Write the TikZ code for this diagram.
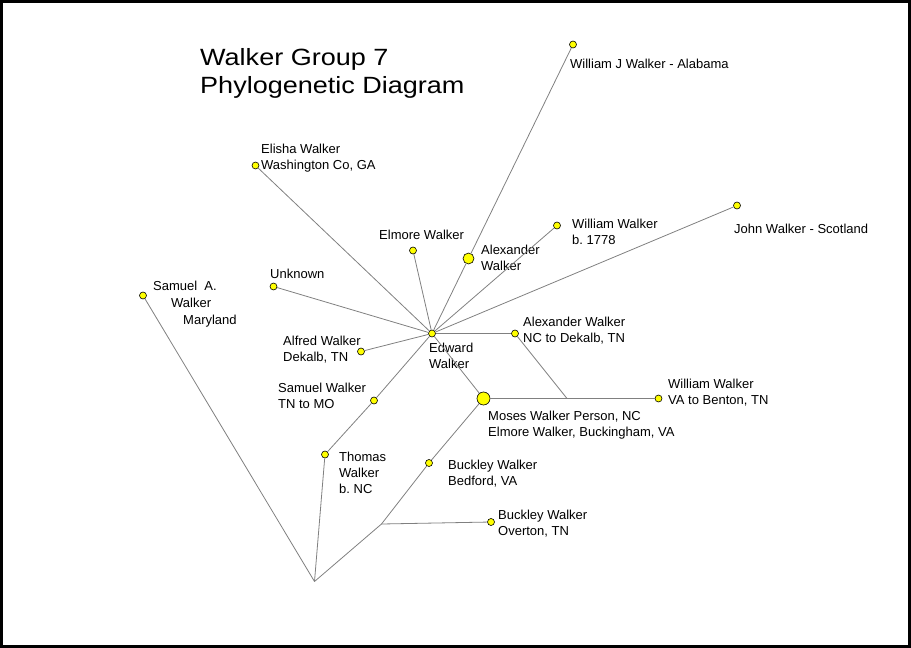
\documentclass[tikz,border=0pt]{standalone}
\usepackage{fontspec}
\setmainfont{Liberation Sans}
\newfontfamily\titlefont[FakeStretch=1.15]{Liberation Sans}
\usepackage{tikz}
\tikzset{>=latex}
\frenchspacing
\definecolor{linegray}{RGB}{128,128,128}
\definecolor{dotyellow}{RGB}{255,255,0}
\tikzset{
  dot/.style={circle,draw=black,line width=0.6pt,fill=dotyellow,minimum size=7pt,inner sep=0pt},
  bigdot/.style={dot,minimum size=11pt},
  lbl/.style={anchor=base west,inner sep=0pt,align=left,font=\fontsize{13}{16}\selectfont},
  edge/.style={draw=linegray,line width=0.8pt},
}

\begin{document}
\begin{tikzpicture}[x=1pt,y=-1pt]
                \useasboundingbox (0,0) rectangle (911,648);
                \draw[line width=3pt] (1.5,1.5) rectangle (909.5,646.5);
                % title (base = last line)
                \node[anchor=base west,inner sep=0pt,align=left,font=\titlefont\fontsize{23.5}{28}\selectfont] (ttl) at (200,93) {Walker Group 7\\Phylogenetic Diagram};
                % dots
                \node[dot] (ew) at (432,333.5) {};
                \node[dot] (wj) at (573,44.5) {};
                \node[dot] (el) at (255.5,165.5) {};
                \node[dot] (em) at (413,250.5) {};
                \node[bigdot] (ax) at (468.5,258.5) {};
                \node[dot] (wb) at (557,225.5) {};
                \node[dot] (jw) at (737,205.5) {};
                \node[dot] (un) at (273.5,286.5) {};
                \node[dot] (sa) at (143,295.5) {};
                \node[dot] (af) at (361,351.5) {};
                \node[dot] (an) at (515,333.5) {};
                \node[dot] (st) at (374,400.5) {};
                \node[bigdot,minimum size=13pt] (mw) at (483.5,398.5) {};
                \node[dot] (wv) at (658.5,398.5) {};
                \node[dot] (tw) at (325,454.5) {};
                \node[dot] (bb) at (429,463) {};
                \node[dot] (bo) at (491,522) {};
                \coordinate (j1) at (567,398.5);
                \coordinate (j2) at (381.5,524);
                \coordinate (rt) at (314.5,581.5);
                % labels (placed at baseline of last line)
                \node[lbl] (wjl) at (570,68) {William J Walker - Alabama};
                \node[lbl] (ell) at (261,169) {Elisha Walker\\Washington Co, GA};
                \node[lbl] (eml) at (379,239) {Elmore Walker};
                \node[lbl] (axl) at (481,270) {Alexander\\Walker};
                \node[lbl] (wbl) at (572,244) {William Walker\\b. 1778};
                \node[lbl] (jwl) at (734,233) {John Walker - Scotland};
                \node[lbl] (unl) at (270,278) {Unknown};
                \node[lbl,font=\fontsize{13}{17}\selectfont] (sal) at (153,324) {Samuel~~A.\\\hspace*{18pt}Walker\\\hspace*{30pt}Maryland};
                \node[lbl] (ewl) at (429,368) {Edward\\Walker};
                \node[lbl] (afl) at (283,361.5) {Alfred Walker\\Dekalb, TN};
                \node[lbl] (anl) at (523,342) {Alexander Walker\\NC to Dekalb, TN};
                \node[lbl] (stl) at (278,408.5) {Samuel Walker\\TN to MO};
                \node[lbl] (mwl) at (488,436.5) {Moses Walker Person, NC\\Elmore Walker, Buckingham, VA};
                \node[lbl] (wvl) at (668,404.5) {William Walker\\VA to Benton, TN};
                \node[lbl] (twl) at (339,493.5) {Thomas\\Walker\\b. NC};
                \node[lbl] (bbl) at (448,485) {Buckley Walker\\Bedford, VA};
                \node[lbl] (bol) at (498,535) {Buckley Walker\\Overton, TN};
                % branches
                \draw[edge] (ew) -- (ax);
                \draw[edge] (ax) -- (wj);
                \draw[edge] (ew) -- (el);
                \draw[edge] (ew) -- (em);
                \draw[edge] (ew) -- (wb);
                \draw[edge] (ew) -- (jw);
                \draw[edge] (ew) -- (un);
                \draw[edge] (ew) -- (af);
                \draw[edge] (ew) -- (an);
                \draw[edge] (ew) -- (mw);
                \draw[edge] (ew) -- (st);
                \draw[edge] (st) -- (tw);
                \draw[edge] (tw) -- (rt);
                \draw[edge] (sa) -- (rt);
                \draw[edge] (mw) -- (j1) -- (wv);
                \draw[edge] (an) -- (j1);
                \draw[edge] (rt) -- (j2) -- (bb);
                \draw[edge] (bb) -- (mw);
                \draw[edge] (j2) -- (bo);
            \end{tikzpicture}
\end{document}
